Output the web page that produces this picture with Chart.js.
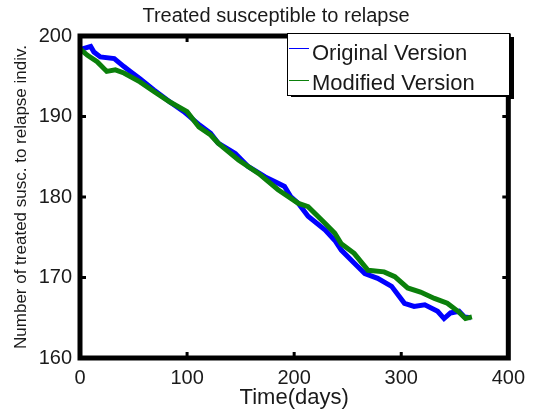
<!DOCTYPE html>
<html>
<head>
<meta charset="utf-8">
<script src="https://cdn.jsdelivr.net/npm/chart.js@4/dist/chart.umd.min.js"></script>
<style>
  html, body { margin: 0; padding: 0; background: #fff; }
  #wrap { width: 533px; height: 419px; }
</style>
</head>
<body>
<div id="wrap"><canvas id="myChart" width="533" height="419"></canvas></div>
<script>
// values
const origDays  = [0,10,13,19,32,41,47,56,69,84,97,112,122,129,145,157,173,185,191,197,204,213,229,238,244,256,266,278,291,303,312,322,334,340,346,354,359,365];
const origCount = [198.3,198.7,198.0,197.4,197.2,196.2,195.6,194.7,193.3,191.8,190.6,188.9,187.9,186.7,185.4,183.8,182.5,181.7,181.3,180.0,179.2,177.6,175.9,174.6,173.4,171.8,170.5,169.9,168.9,166.8,166.4,166.6,165.8,164.9,165.6,165.8,165.1,165.0];

const modDays  = [0,7,16,25,33,41,56,69,84,100,111,122,129,148,167,185,204,213,229,238,244,256,269,284,294,306,318,331,343,353,360,366];
const modCount = [198.4,197.6,196.8,195.6,195.8,195.4,194.3,193.1,191.8,190.6,188.7,187.7,186.7,184.6,182.9,180.9,179.2,178.8,176.7,175.5,174.2,173.0,170.9,170.7,170.1,168.7,168.2,167.4,166.8,165.8,164.9,165.1];

const seriesNames = ['Original Version', 'Modified Version'];
const xTicks = [0, 100, 200, 300, 400];
const yTicks = [160, 170, 180, 190, 200];
const chartTitle = 'Treated susceptible to relapse';

const FONT = 'Liberation Sans, Arial, sans-serif';

function toPoints(xs, ys) {
    return xs.map((x, i) => ({ x: x, y: ys[i] }));
}

// thick box round the axes + small inward ticks (matlab style)
const boxPlugin = {
    id: 'box',
    afterDatasetsDraw(chart) {
        const { ctx, chartArea: a, scales } = chart;
        ctx.save();
        ctx.strokeStyle = '#000';
        ctx.lineWidth = 5;
        ctx.strokeRect(a.left, a.top, a.right - a.left, a.bottom - a.top);
        ctx.lineWidth = 3;
        ctx.beginPath();
        xTicks.slice(1, -1).forEach(v => {
            const px = scales.x.getPixelForValue(v);
            ctx.moveTo(px, a.bottom); ctx.lineTo(px, a.bottom - 6);
            ctx.moveTo(px, a.top); ctx.lineTo(px, a.top + 6);
        });
        yTicks.slice(1, -1).forEach(v => {
            const py = scales.y.getPixelForValue(v);
            ctx.moveTo(a.left, py); ctx.lineTo(a.left + 6, py);
            ctx.moveTo(a.right, py); ctx.lineTo(a.right - 6, py);
        });
        ctx.stroke();
        ctx.restore();
    }
};

// title (a bit right of canvas centre like the original) + legend box with shadow
const legendPlugin = {
    id: 'boxLegend',
    afterDraw(chart) {
        const ctx = chart.ctx;
        ctx.save();
        ctx.fillStyle = '#1a1a1a';
        ctx.font = '20px ' + FONT;
        ctx.textAlign = 'center';
        ctx.textBaseline = 'middle';
        ctx.fillText(chartTitle, 276, 16);

        const x0 = 287, y0 = 33, w = 222, h = 62;
        ctx.fillStyle = '#000';
        ctx.fillRect(x0 + w, y0 + 4, 5, h);
        ctx.fillRect(x0 + 4, y0 + h, w, 2);
        ctx.fillStyle = '#fff';
        ctx.fillRect(x0, y0, w, h);
        ctx.strokeStyle = '#000';
        ctx.lineWidth = 1;
        ctx.strokeRect(x0 + 0.5, y0 + 0.5, w, h);
        ctx.font = '22px ' + FONT;
        ctx.textAlign = 'left';
        ctx.textBaseline = 'alphabetic';
        chart.data.datasets.forEach((ds, i) => {
            const ly = 48 + i * 32;
            ctx.strokeStyle = ds.borderColor;
            ctx.lineWidth = 1;
            ctx.beginPath();
            ctx.moveTo(289, ly + 0.5);
            ctx.lineTo(309, ly + 0.5);
            ctx.stroke();
            ctx.fillStyle = '#1a1a1a';
            ctx.fillText(ds.label, 312, 60 + i * 30);
        });
        ctx.restore();
    }
};

const ctx = document.getElementById('myChart');
const myChart = new Chart(ctx, {
    type: 'line',
    data: {
        datasets: [{
            label: seriesNames[0],
            data: toPoints(origDays, origCount),
            borderColor: '#0000ff',
            borderWidth: 5,
            pointRadius: 0,
            tension: 0,
            fill: false,
            order: 1
        }, {
            label: seriesNames[1],
            data: toPoints(modDays, modCount),
            borderColor: '#0b800b',
            borderWidth: 5,
            pointRadius: 0,
            tension: 0,
            fill: false,
            order: 0
        }]
    },
    options: {
        responsive: false,
        animation: false,
        layout: { padding: { left: 0, right: 22, top: 36, bottom: 0 } },
        plugins: {
            legend: { display: false },
            tooltip: { enabled: false },
            title: { display: false }
        },
        scales: {
            x: {
                type: 'linear',
                min: 0,
                max: 400,
                afterBuildTicks: s => { s.ticks = xTicks.map(v => ({ value: v })); },
                afterFit: s => { s.height = 61; },
                grid: { display: false, drawTicks: false },
                border: { display: false },
                ticks: { color: '#1a1a1a', padding: 8, maxRotation: 0, font: { family: FONT, size: 20 } },
                title: {
                    display: true,
                    text: 'Time(days)',
                    color: '#1a1a1a',
                    font: { family: FONT, size: 22 },
                    padding: { top: 0, bottom: 8 }
                }
            },
            y: {
                type: 'linear',
                min: 160,
                max: 200,
                afterBuildTicks: s => { s.ticks = yTicks.map(v => ({ value: v })); },
                afterFit: s => { s.width = 80; },
                grid: { display: false, drawTicks: false },
                border: { display: false },
                ticks: { color: '#1a1a1a', padding: 8, font: { family: FONT, size: 20 } },
                title: {
                    display: true,
                    text: 'Number of treated susc. to relapse indiv.',
                    color: '#1a1a1a',
                    font: { family: FONT, size: 17 },
                    padding: { top: 11, bottom: 0 }
                }
            }
        }
    },
    plugins: [boxPlugin, legendPlugin]
});
</script>
</body>
</html>
